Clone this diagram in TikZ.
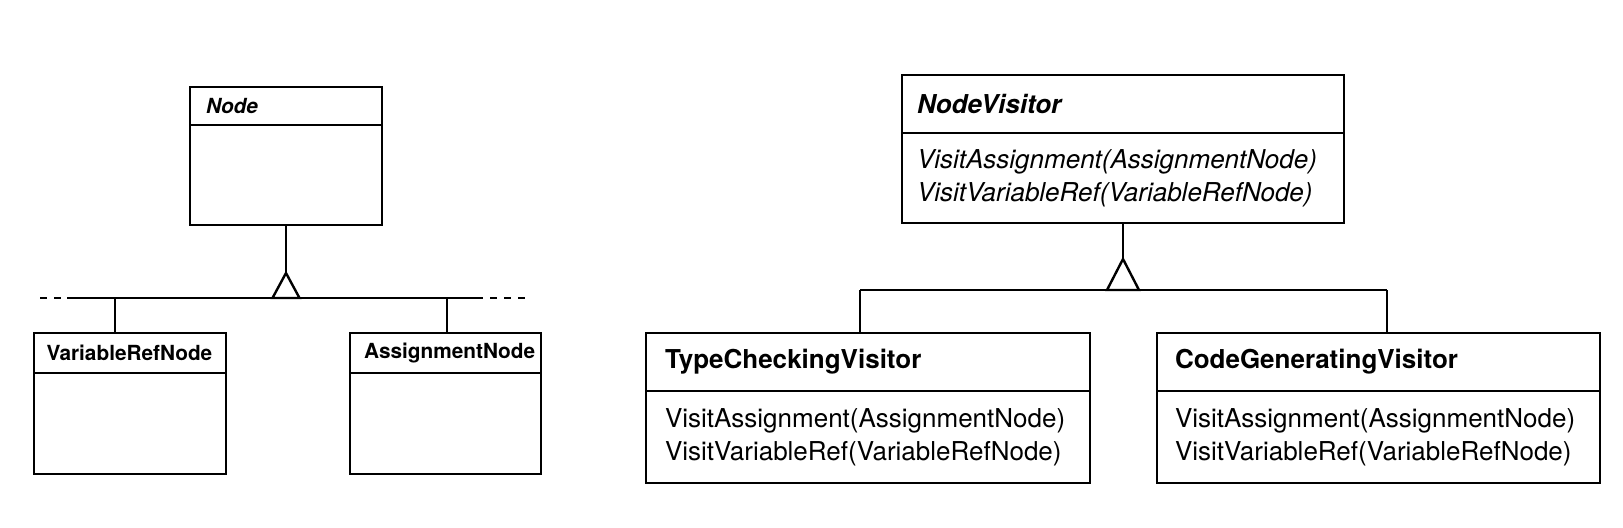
\documentclass[tikz,border=0pt]{standalone}
\usepackage{fontspec}
\setmainfont{TeX Gyre Heros}
\begin{document}
\begin{tikzpicture}[x=0.5pt,y=-0.5pt, line width=1.2pt,
  cls/.style={draw, rectangle, anchor=north west, inner ysep=0pt, inner xsep=0pt, outer sep=0pt, align=left},
  small/.style={font=\fontsize{10.4}{12.5}\selectfont},
  big/.style={font=\fontsize{13}{16.5}\selectfont},
  dashend/.style={dash pattern=on 3.5pt off 3.5pt}]
\useasboundingbox (0,0) rectangle (1623,527);

% ---------- left diagram ----------
\node[cls, small, minimum height=19pt, text width=96pt] (nodeh) at (190,87)
  {\hspace*{8pt}\textbf{\textit{Node}}};
\node[cls, minimum height=50pt, text width=96pt] (nodeb) at (nodeh.south west) {};

\node[cls, small, minimum height=20pt, text width=96pt] (vrh) at (34,333)
  {\hspace*{6.3pt}\textbf{VariableRefNode}};
\node[cls, minimum height=50.5pt, text width=96pt] (vrb) at (vrh.south west) {};

\node[cls, small, minimum height=20pt, text width=95.5pt] (ash) at (350,333)
  {\hspace*{7pt}\textbf{AssignmentNode}};
\node[cls, minimum height=50.5pt, text width=95.5pt] (asb) at (ash.south west) {};

\coordinate (apexL) at (286,273);
\coordinate (busLa) at (67,298);
\coordinate (busLb) at (483,298);
\coordinate (dashLa) at (40,298);
\coordinate (dashLb) at (530,298);
\coordinate (dropL1) at (115,298);
\coordinate (dropL2) at (447,298);

\draw (nodeb.south) -- (apexL);
\draw (busLa) -- (busLb);
\draw[dashend] (dashLa) -- (busLa);
\draw[dashend, dash phase=3.5pt] (busLb) -- (dashLb);
\draw[fill=white] (apexL) -- ++(-13.5,25) -- ++(27,0) -- cycle;
\draw (dropL1) -- (dropL1 |- vrh.north);
\draw (dropL2) -- (dropL2 |- ash.north);

% ---------- right diagram ----------
\node[cls, big, minimum height=29pt, text width=221pt] (nvh) at (902,75)
  {\hspace*{7.5pt}\textbf{\textit{NodeVisitor}}};
\node[cls, big, minimum height=45pt, text width=221pt] (nvb) at (nvh.south west)
  {\hspace*{7.5pt}\textit{VisitAssignment(AssignmentNode)}\\
   \hspace*{7.5pt}\textit{VisitVariableRef(VariableRefNode)}};

\node[cls, big, minimum height=29pt, text width=222pt] (tch) at (646,333)
  {\hspace*{9.5pt}\textbf{TypeCheckingVisitor}};
\node[cls, big, minimum height=46pt, text width=222pt] (tcb) at (tch.south west)
  {\hspace*{9.5pt}VisitAssignment(AssignmentNode)\\
   \hspace*{9.5pt}VisitVariableRef(VariableRefNode)};

\node[cls, big, minimum height=29pt, text width=221.5pt] (cgh) at (1157,333)
  {\hspace*{9pt}\textbf{CodeGeneratingVisitor}};
\node[cls, big, minimum height=46pt, text width=221.5pt] (cgb) at (cgh.south west)
  {\hspace*{9pt}VisitAssignment(AssignmentNode)\\
   \hspace*{9pt}VisitVariableRef(VariableRefNode)};

\coordinate (apexR) at (1123,259);
\coordinate (dropR1) at (860,290);
\coordinate (dropR2) at (1387,290);

\draw (nvb.south) -- (apexR);
\draw (dropR1) -- (dropR2);
\draw[fill=white] (apexR) -- ++(-16,31) -- ++(32,0) -- cycle;
\draw (dropR1) -- (dropR1 |- tch.north);
\draw (dropR2) -- (dropR2 |- cgh.north);
\end{tikzpicture}
\end{document}
